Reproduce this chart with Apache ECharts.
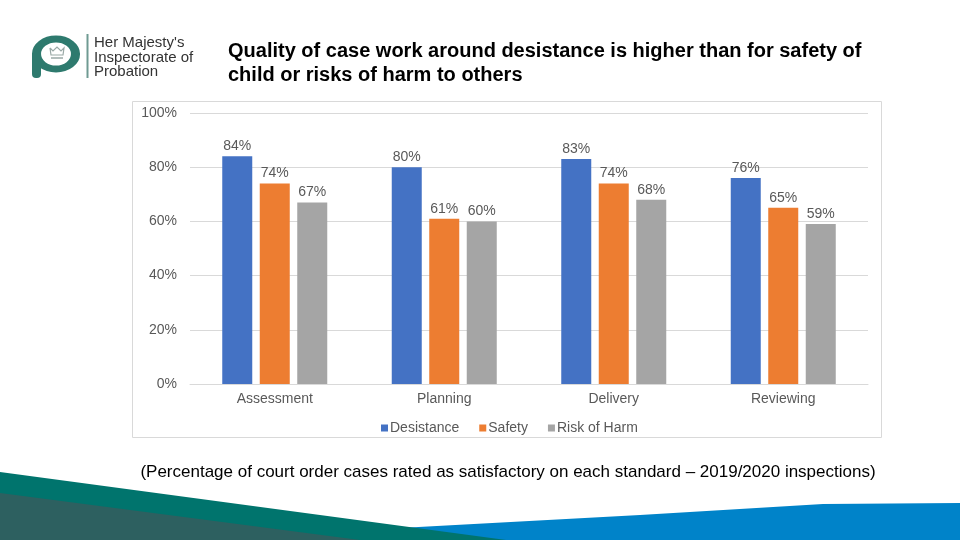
<!DOCTYPE html>
<html><head><meta charset="utf-8">
<script src="https://cdn.jsdelivr.net/npm/echarts@6/dist/echarts.min.js"></script>
<style>html,body{margin:0;padding:0;background:#fff}#c{width:960px;height:540px}</style>
</head><body><div id="c"></div>
<script>
const categories = ['Assessment', 'Planning', 'Delivery', 'Reviewing'];
const desistance = [84, 80, 83, 76];
const safety = [74, 61, 74, 65];
const riskOfHarm = [67, 60, 68, 59];
const seriesNames = ['Desistance', 'Safety', 'Risk of Harm'];
const yTicks = [0, 20, 40, 60, 80, 100];

const chart = echarts.init(document.getElementById('c'), null, {renderer: 'canvas'});
const labelStyle = {show: true, position: 'top', formatter: '{c}%', color: '#595959', fontSize: 14, fontFamily: 'Arial', distance: 3};
const mk = (name, data, color) => ({
  name, type: 'bar', data, barWidth: 30, itemStyle: {color}, label: labelStyle, z: 3
});
chart.setOption({
  animation: false,
  textStyle: {fontFamily: 'Arial'},
  title: [
    {text: 'Quality of case work around desistance is higher than for safety of\nchild or risks of harm to others',
     left: 223, top: 34, textStyle: {fontSize: 20, fontWeight: 'bold', color: '#000', fontFamily: 'Arial', lineHeight: 24}},
    {text: '(Percentage of court order cases rated as satisfactory on each standard \u2013 2019/2020 inspections)',
     left: 503, top: 459, textAlign: 'center', textStyle: {fontSize: 17, fontWeight: 'normal', color: '#000', fontFamily: 'Arial'}}
  ],
  legend: {
    data: seriesNames, left: 376, top: 416, itemWidth: 7, itemHeight: 7, itemGap: 20,
    icon: 'rect', textStyle: {color: '#595959', fontSize: 14, fontFamily: 'Arial', padding: [0, 0, 0, -3]}
  },
  grid: {left: 190, right: 92, top: 113, bottom: 156},
  xAxis: {
    type: 'category', data: categories,
    axisLine: {lineStyle: {color: '#d9d9d9'}}, axisTick: {show: false},
    axisLabel: {color: '#595959', fontSize: 14, margin: 8}
  },
  yAxis: {
    type: 'value', min: 0, max: 100, interval: 20,
    axisLabel: {formatter: v => yTicks.includes(v) ? v + '%' : '', color: '#595959', fontSize: 14, margin: 13},
    splitLine: {lineStyle: {color: '#d9d9d9'}}, axisLine: {show: false}, axisTick: {show: false}
  },
  series: [
    Object.assign(mk(seriesNames[0], desistance, '#4472c4'), {barGap: '25%'}),
    mk(seriesNames[1], safety, '#ed7d31'),
    mk(seriesNames[2], riskOfHarm, '#a5a5a5')
  ],
  graphic: [
    {type: 'rect', shape: {x: 132.5, y: 101.5, width: 749, height: 336}, style: {fill: 'none', stroke: '#d9d9d9', lineWidth: 1}, z: 0},
    // bottom decoration
    {type: 'polygon', shape: {points: [[400, 528], [640, 515], [823, 504], [960, 503], [960, 540], [400, 540]]}, style: {fill: '#0083c9'}, z: 1},
    {type: 'polygon', shape: {points: [[0, 472], [506, 540], [0, 540]]}, style: {fill: '#00746d'}, z: 2},
    {type: 'polygon', shape: {points: [[0, 493], [360, 540], [0, 540]]}, style: {fill: '#2d6060'}, z: 3},
    // logo
    {type: 'circle', shape: {cx: 0, cy: 0, r: 15}, x: 56, y: 54, scaleX: 1.3, style: {fill: 'none', stroke: '#2e7a6e', lineWidth: 7}, z: 4},
    {type: 'rect', shape: {x: 32, y: 54, width: 9, height: 24, r: [0, 0, 4, 4]}, style: {fill: '#2e7a6e'}, z: 4},
    {type: 'polyline', shape: {points: [[50, 48], [53, 51], [57, 47], [61, 51], [64, 48], [63, 55], [51, 55], [50, 48]]}, style: {fill: 'none', stroke: '#9aa9a6', lineWidth: 1.2}, z: 4},
    {type: 'line', shape: {x1: 51, y1: 58, x2: 63, y2: 58}, style: {stroke: '#9aa9a6', lineWidth: 1.5}, z: 4},
    {type: 'line', shape: {x1: 87.5, y1: 34, x2: 87.5, y2: 78}, style: {stroke: '#6f9a92', lineWidth: 2}, z: 4},
    {type: 'text', x: 94, y: 36, style: {text: "Her Majesty's\nInspectorate of\nProbation", fill: '#333', font: '15px Arial', lineHeight: 14.5}, z: 4}
  ]
});
</script></body></html>
